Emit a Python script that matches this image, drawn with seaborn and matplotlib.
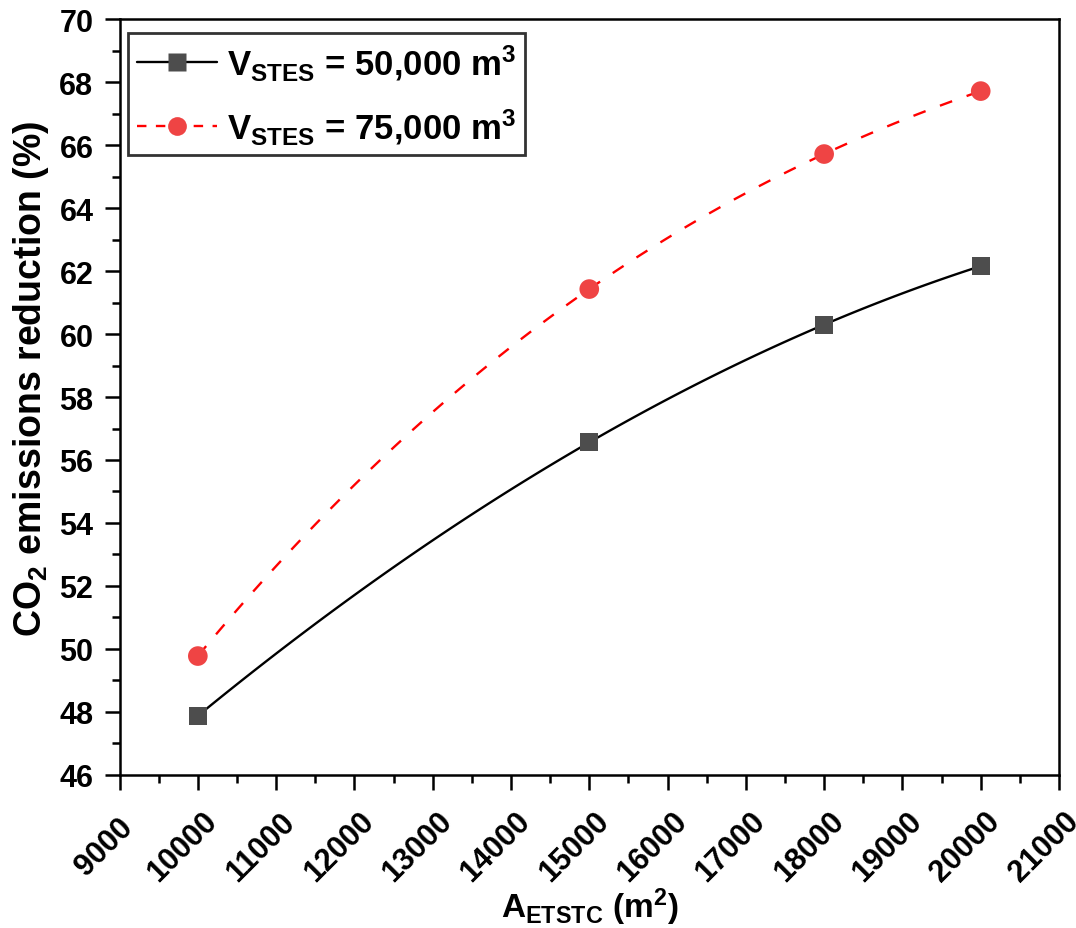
import numpy as np
import pandas as pd
import matplotlib
matplotlib.use("Agg")
import matplotlib.pyplot as plt
import seaborn as sns
from matplotlib.lines import Line2D
from matplotlib.ticker import MultipleLocator
from matplotlib.transforms import ScaledTranslation

# collector area (m2) and CO2 reduction (%) for the two storage volumes
area = [10000, 15000, 18000, 20000]
co2_50k = [47.87, 56.56, 60.30, 62.16]
co2_75k = [49.77, 61.43, 65.72, 67.72]
labels = [r"$V_{STES}$ = 50,000 m$^3$", r"$V_{STES}$ = 75,000 m$^3$"]

sns.set_style("ticks")
plt.rcParams['font.family'] = ['Liberation Sans', 'DejaVu Sans']
plt.rcParams['font.weight'] = 'bold'
plt.rcParams['mathtext.fontset'] = 'custom'
plt.rcParams['mathtext.bf'] = 'Liberation Sans:bold'
plt.rcParams['mathtext.rm'] = 'Liberation Sans:bold'
plt.rcParams['mathtext.default'] = 'bf'
for key in ['text.color', 'axes.labelcolor', 'xtick.color', 'ytick.color']:
    plt.rcParams[key] = 'black'

df = pd.DataFrame({"area": area, "v50": co2_50k, "v75": co2_75k})

fig = plt.figure(figsize=(10.76, 9.29), dpi=100)
ax = fig.add_axes([0.1111, 0.165, 0.9842 - 0.1111, 0.9781 - 0.165])

# smooth curves through the points (cubic through 4 points)
sns.regplot(data=df, x="area", y="v50", order=3, ci=None, scatter=False,
            ax=ax, line_kws=dict(color="black", lw=1.7))
sns.regplot(data=df, x="area", y="v75", order=3, ci=None, scatter=False,
            ax=ax, line_kws=dict(color="#ff0000", lw=1.7,
                                 ls=(0, (5.5, 6.5))))
# markers
sns.scatterplot(data=df, x="area", y="v50", marker="s", s=165,
                color="#4d4d4d", edgecolor="none", ax=ax, zorder=3)
sns.scatterplot(data=df, x="area", y="v75", marker="o", s=200,
                color="#ef4444", edgecolor="none", ax=ax, zorder=3)

ax.set_xlim(9000, 21000)
ax.set_ylim(46, 70)
ax.xaxis.set_major_locator(MultipleLocator(1000))
ax.xaxis.set_minor_locator(MultipleLocator(500))
ax.yaxis.set_major_locator(MultipleLocator(2))
ax.yaxis.set_minor_locator(MultipleLocator(1))
ax.tick_params(which='major', direction='out', length=10.8, width=1.8,
               top=False, right=False)
ax.tick_params(which='minor', direction='out', length=5.5, width=1.8,
               top=False, right=False)
ax.tick_params(axis='y', which='major', labelsize=22, pad=8)
ax.tick_params(axis='x', which='major', labelsize=22, pad=41)

shift = ScaledTranslation(-0.15, 0, fig.dpi_scale_trans)
for lab in ax.get_xticklabels():
    lab.set_rotation(45)
    lab.set_ha('center')
    lab.set_va('center')
    lab.set_rotation_mode('anchor')
    lab.set_fontweight('bold')
    lab.set_transform(lab.get_transform() + shift)
for lab in ax.get_yticklabels():
    lab.set_fontweight('bold')
for sp in ax.spines.values():
    sp.set_visible(True)
    sp.set_linewidth(1.8)
    sp.set_color("black")

ax.set_xlabel(r"A$_{ETSTC}$ (m$^2$)", fontsize=24, fontweight='bold')
ax.xaxis.set_label_coords(0.5, -0.147)
ax.set_ylabel(r"CO$_2$ emissions reduction (%)", fontsize=27,
              fontweight='bold', labelpad=6)
ax.yaxis.label.set_y(0.525)

handles = [
    Line2D([], [], color="black", lw=1.7, marker="s", markersize=12.5,
           markerfacecolor="#4d4d4d", markeredgecolor="none"),
    Line2D([], [], color="#ff0000", lw=1.7, ls=(0, (4, 4)), marker="o",
           markersize=13.5, markerfacecolor="#ef4444",
           markeredgecolor="none"),
]
leg = ax.legend(handles, labels, loc="upper left",
                bbox_to_anchor=(0.009, 0.9815), borderaxespad=0,
                fontsize=25, frameon=True, fancybox=False,
                edgecolor="black", borderpad=0.25, handlelength=2.3,
                handletextpad=0.3, labelspacing=0.7)
leg.get_frame().set_linewidth(2.0)

fig.savefig("out.png", dpi=100)
